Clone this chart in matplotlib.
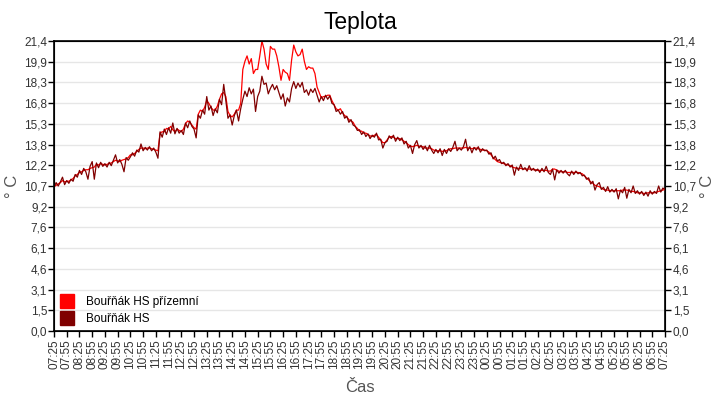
import matplotlib
matplotlib.use("Agg")
import matplotlib.pyplot as plt
import numpy as np
import pandas as pd
from matplotlib.lines import Line2D

plt.rcParams["font.family"] = ["Liberation Sans", "DejaVu Sans"]

# 5-minute samples from 07:25 to 07:25 next day
dark_hs = [
    10.6, 10.95, 10.7, 11.0, 11.35, 10.8, 11.1, 10.9, 11.2, 11.05, 11.55, 11.35,
    11.85, 11.55, 12.0, 11.75, 11.2, 12.15, 12.5, 11.2, 12.4, 12.05, 12.45, 12.15,
    12.35, 12.1, 12.45, 12.2, 12.6, 13.0, 12.4, 12.65, 12.3, 11.75, 12.8, 12.6,
    12.85, 13.15, 12.9, 13.35, 13.2, 13.8, 13.3, 13.55, 13.35, 13.6, 13.3, 13.5,
    13.2, 12.75, 14.7, 14.3, 14.9, 14.5, 15.0, 14.6, 15.35, 14.55, 14.95, 14.6,
    14.8, 14.5, 15.35, 15.0, 15.5, 15.1, 14.9, 14.25, 15.95, 15.7, 16.3, 16.0,
    17.3, 16.3, 16.6, 15.9, 16.4, 16.1, 17.1, 16.7, 18.2, 17.0, 15.7, 15.95,
    15.2, 15.9, 16.3, 15.5, 16.4, 17.1, 17.7, 17.3, 17.95, 17.5, 17.85, 16.2,
    17.3, 17.7, 18.8, 18.2, 18.3, 17.5, 17.9, 18.2, 17.8, 18.1, 17.6, 17.1,
    17.5, 16.6, 17.2, 16.9, 17.9, 18.4, 17.9, 18.3, 18.0, 18.35, 17.6, 17.8,
    17.4, 17.85, 17.6, 17.9, 17.4, 16.9, 17.3, 17.0, 17.4, 17.1, 17.35, 16.8,
    16.7, 16.2, 16.3, 16.0, 16.2, 15.7, 15.85, 15.4, 15.6, 15.2, 15.1, 14.8,
    14.85, 14.5, 14.7, 14.35, 14.55, 14.2, 14.45, 14.3, 14.6, 14.1, 14.15, 13.5,
    13.9, 14.0, 14.4, 14.2, 14.45, 14.0, 14.3, 14.05, 14.25, 13.8, 14.0, 13.5,
    13.7, 13.1, 13.75, 14.05, 13.5, 13.7, 13.4, 13.65, 13.3, 13.7, 13.35, 13.1,
    13.4, 13.15, 13.45, 12.95, 13.4, 13.1, 13.45, 13.25, 13.55, 14.0, 13.3, 13.5,
    13.35, 13.6, 14.15, 13.3, 13.6, 13.15, 13.55, 13.35, 13.6, 13.2, 13.45, 13.3,
    13.35, 13.05, 13.15, 12.7, 12.9, 12.55, 12.65, 12.35, 12.45, 12.2, 12.35, 12.1,
    12.25, 11.5, 12.1, 11.85, 12.3, 11.9, 12.05, 11.8, 12.2, 11.85, 12.0, 11.8,
    11.95, 11.7, 12.0, 11.75, 12.15, 11.7, 11.55, 11.95, 11.15, 11.9, 11.65, 11.85,
    11.65, 11.85, 11.6, 11.45, 11.8, 11.55, 11.8, 11.6, 11.7, 11.45, 11.5, 11.2,
    11.3, 10.85, 11.05, 10.4, 10.8, 10.95, 10.45, 10.6, 10.3, 10.65, 10.25, 10.45,
    10.25, 10.5, 9.75, 10.4, 10.2, 10.6, 9.8, 10.45, 10.2, 10.7, 10.15, 10.35,
    10.1, 10.3, 10.0, 10.25, 9.95, 10.35, 10.1, 10.3, 10.15, 10.7, 10.25, 10.55,
    10.45,
]

ground_hs = [
    10.65, 10.75, 10.85, 10.95, 11.1, 11.0, 11.05, 11.05, 11.15, 11.25, 11.45, 11.55,
    11.7, 11.75, 11.85, 11.9, 11.9, 12.0, 12.05, 12.1, 12.3, 12.25, 12.35, 12.3,
    12.25, 12.3, 12.35, 12.4, 12.5, 12.6, 12.55, 12.5, 12.6, 12.65, 12.7, 12.8,
    13.0, 13.0, 13.1, 13.25, 13.4, 13.5, 13.5, 13.45, 13.5, 13.5, 13.45, 13.4,
    13.35, 13.3, 14.6, 14.7, 14.7, 14.95, 14.9, 15.1, 14.85, 14.7, 14.9, 14.8,
    14.7, 14.9, 15.3, 15.5, 15.4, 15.2, 15.0, 14.9, 16.0, 16.3, 16.2, 16.5,
    17.0, 16.8, 16.5, 16.3, 16.3, 16.6, 17.1, 17.5, 17.6, 17.3, 16.2, 15.9,
    15.8, 16.0, 16.3, 16.3, 16.8, 19.3, 19.9, 20.3, 19.7, 20.1, 19.0, 19.3,
    19.3, 20.3, 21.4, 20.8, 19.7, 19.3, 21.0, 20.8, 20.8, 20.3, 19.5, 18.5,
    19.3, 19.1, 19.0, 18.5, 20.0, 21.1, 20.6, 20.3, 20.4, 20.8, 19.9, 19.3,
    19.5, 19.4, 19.4, 19.0, 18.0, 17.6, 17.2, 17.3, 17.3, 17.4, 17.4, 17.0,
    16.7, 16.4, 16.3, 16.4, 16.1, 15.9, 15.8, 15.6, 15.5, 15.4, 15.1, 14.95,
    14.75, 14.75, 14.6, 14.6, 14.5, 14.4, 14.35, 14.45, 14.5, 14.3, 14.1, 13.9,
    13.9, 14.1, 14.3, 14.35, 14.3, 14.2, 14.2, 14.2, 14.1, 14.0, 13.9, 13.75,
    13.65, 13.6, 13.65, 13.7, 13.65, 13.6, 13.6, 13.5, 13.5, 13.5, 13.45, 13.35,
    13.3, 13.3, 13.3, 13.25, 13.3, 13.3, 13.4, 13.45, 13.45, 13.5, 13.5, 13.5,
    13.5, 13.5, 13.55, 13.5, 13.5, 13.45, 13.5, 13.5, 13.45, 13.4, 13.35, 13.35,
    13.3, 13.2, 13.0, 12.8, 12.65, 12.5, 12.45, 12.4, 12.35, 12.3, 12.25, 12.2,
    12.1, 12.05, 12.0, 12.0, 12.0, 11.95, 11.95, 11.95, 11.95, 11.95, 11.9, 11.9,
    11.85, 11.85, 11.85, 11.85, 11.85, 11.8, 11.8, 11.95, 11.95, 11.85, 11.8, 11.75,
    11.75, 11.75, 11.7, 11.7, 11.7, 11.7, 11.7, 11.7, 11.65, 11.6, 11.45, 11.3,
    11.15, 11.0, 10.9, 10.75, 10.7, 10.65, 10.55, 10.45, 10.4, 10.4, 10.35, 10.35,
    10.35, 10.35, 10.35, 10.35, 10.4, 10.4, 10.4, 10.35, 10.3, 10.3, 10.25, 10.2,
    10.2, 10.2, 10.15, 10.15, 10.2, 10.2, 10.2, 10.2, 10.25, 10.3, 10.35, 10.4,
    10.45,
]

series_names = ["Bouřňák HS přízemní", "Bouřňák HS"]
series_colors = ["#ff0000", "#800000"]
y_tick_labels = ["0,0", "1,5", "3,1", "4,6", "6,1", "7,6", "9,2", "10,7",
                 "12,2", "13,8", "15,3", "16,8", "18,3", "19,9", "21,4"]

minutes = np.arange(len(dark_hs)) * 5
start = pd.Timestamp("2024-01-01 07:25")
x_ticks = np.arange(0, 1441, 30)
x_tick_labels = [(start + pd.Timedelta(minutes=int(m))).strftime("%H:%M") for m in x_ticks]
y_ticks = np.linspace(0, 21.4, len(y_tick_labels))

fig = plt.figure(figsize=(7.2, 4.0), dpi=100)
ax = fig.add_axes([0.075, 0.1725, 0.8486, 0.725])

ax.plot(minutes, ground_hs, color=series_colors[0], lw=0.9, zorder=3)
ax.plot(minutes, dark_hs, color=series_colors[1], lw=0.9, zorder=4)

ax.set_xlim(0, 1440)
ax.set_ylim(0, 21.4)
ax.set_yticks(y_ticks)
ax.set_yticklabels(y_tick_labels)
ax.set_xticks(x_ticks)
ax.set_xticklabels(x_tick_labels, rotation=90)
ax.grid(axis="y", color="#e6e6e6", lw=1)
ax.set_axisbelow(True)
ax.tick_params(axis="y", direction="out", length=4, width=1, labelsize=8.5,
               labelcolor="#333333", color="black", pad=0.8)
ax.tick_params(axis="x", direction="out", length=4, width=1, labelsize=8.5,
               labelcolor="#333333", color="black", pad=2)
for s in ax.spines.values():
    s.set_linewidth(1.2)

ax2 = ax.twinx()
ax2.set_ylim(0, 21.4)
ax2.set_yticks(y_ticks)
ax2.set_yticklabels(y_tick_labels)
ax2.tick_params(direction="out", length=4, width=1, labelsize=8.5,
                labelcolor="#333333", pad=1.5)
ax2.set_ylabel("° C", fontsize=12, color="#555555", labelpad=3)
ax.set_ylabel("° C", fontsize=12, color="#555555", labelpad=3)
ax.set_xlabel("Čas", fontsize=12, color="#555555", labelpad=8)

fig.text(0.5, 0.945, "Teplota", ha="center", va="center", fontsize=16.5)

handles = [Line2D([], [], marker="s", linestyle="none", markersize=10,
                  color=c) for c in series_colors]
ax.legend(handles, series_names, loc="lower left", frameon=False,
          fontsize=8.5, handletextpad=1.0, labelspacing=0.45,
          borderaxespad=0.2, borderpad=0.3, handlelength=1.2)

fig.savefig("out.png", dpi=100)
